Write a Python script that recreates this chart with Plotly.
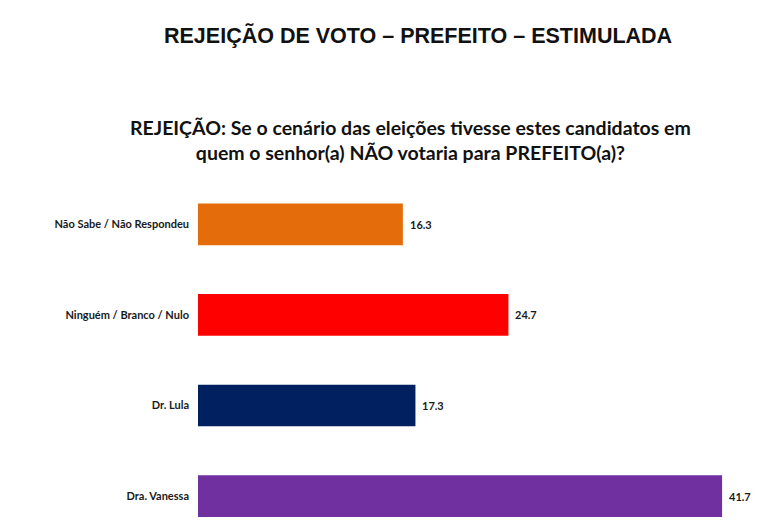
import plotly.graph_objects as go

CATEGORIES = ["Não Sabe / Não Respondeu", "Ninguém / Branco / Nulo", "Dr. Lula", "Dra. Vanessa"]
VALUES = [16.3, 24.7, 17.3, 41.7]
COLORS = ["#E46C0A", "#FF0000", "#002060", "#7030A0"]

TITLE = "REJEIÇÃO DE VOTO – PREFEITO – ESTIMULADA"
SUBTITLE = "REJEIÇÃO: Se o cenário das eleições tivesse estes candidatos em<br>quem o senhor(a) NÃO votaria para PREFEITO(a)?"

# the page body adds an 8px offset, so positions are in figure pixels
W, H = 764, 525
ML, MR, MT, MB = 190, 21, 171, 0

fig = go.Figure()

fig.add_trace(
    go.Bar(
        x=VALUES,
        y=CATEGORIES,
        orientation="h",
        marker=dict(color=COLORS, line=dict(width=0)),
        width=0.46,
        cliponaxis=False,
        hoverinfo="skip",
        showlegend=False,
    )
)

# value labels to the right of each bar
for cat, v in zip(CATEGORIES, VALUES):
    fig.add_annotation(
        x=v, y=cat, xref="x", yref="y",
        text=f"<b>{v:.1f}</b>",
        showarrow=False,
        xanchor="left",
        xshift=5,
        font=dict(family="Lato", size=11, color="#1a1a1a"),
    )


def px_to_paper(px, py):
    return (px - ML) / (W - ML - MR), (H - MB - py) / (H - MT - MB)


tx, ty = px_to_paper(410, 28)
sx, sy = px_to_paper(402, 132)
fig.add_annotation(
    text="<b>" + TITLE + "</b>",
    x=tx, y=ty, xref="paper", yref="paper",
    xanchor="center", yanchor="middle",
    showarrow=False,
    font=dict(family="Liberation Sans", size=21.5, color="#111111"),
)
fig.add_annotation(
    text="<b>" + SUBTITLE + "</b>",
    x=sx, y=sy, xref="paper", yref="paper",
    xanchor="center", yanchor="middle",
    showarrow=False,
    font=dict(family="Lato", size=19.5, color="#111111"),
)

fig.update_layout(
    width=W,
    height=H,
    margin=dict(l=ML, r=MR, t=MT, b=MB, autoexpand=False),
    paper_bgcolor="white",
    plot_bgcolor="white",
)

fig.update_xaxes(range=[0, 44], visible=False)
fig.update_yaxes(
    type="category",
    range=[3.407, -0.5],
    automargin=False,
    showline=False,
    showgrid=False,
    zeroline=False,
    ticks="",
    ticklabelstandoff=8,
    tickprefix="<b>",
    ticksuffix="</b>",
    tickfont=dict(family="Lato", size=11, color="#1a1a1a"),
)

fig.write_html("out.html")
